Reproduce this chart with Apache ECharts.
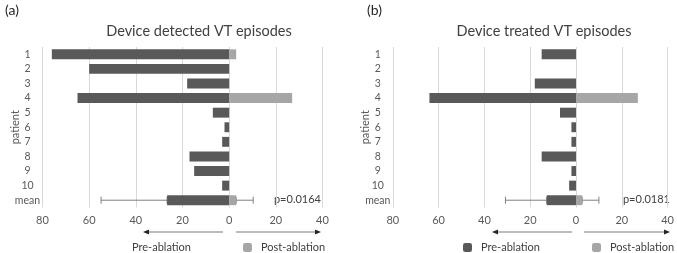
<!DOCTYPE html>
<html>
<head>
<meta charset="utf-8">
<script src="https://cdn.jsdelivr.net/npm/echarts@6/dist/echarts.min.js"></script>
<style>
  html, body { margin: 0; padding: 0; background: #fff; }
  #chart { width: 677px; height: 253px; }
</style>
</head>
<body>
<div id="chart"></div>
<script>
// patients on the y axis, values = number of VT episodes
var patients = ['1', '2', '3', '4', '5', '6', '7', '8', '9', '10', 'mean'];

var detectedPre  = [76, 60, 18, 65, 7, 2, 3, 17, 15, 3, 26.6];
var detectedPost = [3, 0, 0, 27, 0, 0, 0, 0, 0, 0, 3];
var detectedSd   = [28.3, 7.3];   // pre, post (one-sided error bars on mean)

var treatedPre  = [15, 0, 18, 64, 7, 2, 2, 15, 2, 3, 12.8];
var treatedPost = [0, 0, 0, 27, 0, 0, 0, 0, 0, 0, 2.7];
var treatedSd   = [18, 7.3];

var xTicks = { min: -80, max: 40, step: 20 };
var pValues = ['p=0.0164', 'p=0.0181'];

var PRE = '#595959', POST = '#a6a6a6', TXT = '#595959';
var FONT = 'Lato';

var chart = echarts.init(document.getElementById('chart'));

function neg(arr) {
    return arr.map(function (v) { return -v; });
}

function errData(pre, post, sd) {
    var last = patients.length - 1;
    return [
        [last, -(pre[last] + sd[0]), -pre[last]],
        [last, post[last], post[last] + sd[1]]
    ];
}

function renderErr(params, api) {
    var y = api.value(0);
    var a = api.coord([api.value(1), y]);
    var b = api.coord([api.value(2), y]);
    var h = 3.5;
    var st = { stroke: '#7f7f7f', lineWidth: 1 };
    return {
        type: 'group',
        children: [
            { type: 'line', shape: { x1: a[0], y1: a[1], x2: b[0], y2: b[1] }, style: st },
            { type: 'line', shape: { x1: a[0], y1: a[1] - h, x2: a[0], y2: a[1] + h }, style: st },
            { type: 'line', shape: { x1: b[0], y1: b[1] - h, x2: b[0], y2: b[1] + h }, style: st }
        ]
    };
}

function xAxis(idx) {
    return {
        gridIndex: idx,
        type: 'value',
        min: xTicks.min,
        max: xTicks.max,
        interval: xTicks.step,
        axisLine: { show: false },
        axisTick: { show: false },
        axisLabel: {
            color: TXT, fontFamily: FONT, fontSize: 11, margin: 7,
            formatter: function (v) { return Math.abs(v); }
        },
        splitLine: { lineStyle: { color: '#d9d9d9', width: 1 } }
    };
}

function yAxis(idx) {
    return {
        gridIndex: idx,
        type: 'category',
        inverse: true,
        data: patients,
        name: 'patient',
        nameLocation: 'middle',
        nameRotate: 90,
        nameGap: 22,
        nameMoveOverlap: false,
        nameTextStyle: { color: TXT, fontFamily: FONT, fontSize: 11 },
        axisLine: { show: false },
        axisTick: { show: false },
        axisLabel: { color: TXT, fontFamily: FONT, fontSize: 10.5, align: 'center', margin: 15 }
    };
}

function barSeries(idx, name, data, color) {
    return {
        name: name,
        type: 'bar',
        xAxisIndex: idx,
        yAxisIndex: idx,
        stack: 'g' + idx,
        barWidth: '68%',
        itemStyle: { color: color },
        data: data,
        z: 3
    };
}

function arrow(x1, x2, y, dir) {
    var tip = dir < 0 ? x1 : x2;
    return {
        type: 'group',
        children: [
            { type: 'line', shape: { x1: x1 + (dir < 0 ? 4 : 0), y1: y, x2: x2 - (dir > 0 ? 4 : 0), y2: y },
              style: { stroke: '#a6a6a6', lineWidth: 1.5 } },
            { type: 'polygon',
              shape: { points: [[tip, y], [tip - dir * 6, y - 2.5], [tip - dir * 6, y + 2.5]] },
              style: { fill: '#262626' } }
        ]
    };
}

function legendItem(left, name, color, hideIcon) {
    return {
        left: left,
        top: 242,
        padding: 0,
        selectedMode: false,
        itemWidth: 9,
        itemHeight: 9,
        data: [{ name: name, itemStyle: { color: color, opacity: hideIcon ? 0 : 1 } }],
        textStyle: { color: '#404040', fontFamily: FONT, fontSize: 11, padding: [0, 0, 0, 4] }
    };
}

var option = {
    animation: false,
    textStyle: { fontFamily: FONT },
    title: [
        { text: '(a)', left: 0, top: -2, textStyle: { color: '#262626', fontSize: 14, fontWeight: 'normal', fontFamily: FONT } },
        { text: '(b)', left: 362, top: -2, textStyle: { color: '#262626', fontSize: 14, fontWeight: 'normal', fontFamily: FONT } },
        { text: 'Device detected VT episodes', left: 194, top: 19, textAlign: 'center',
          textStyle: { color: '#404040', fontSize: 14.5, fontWeight: 'normal', fontFamily: FONT } },
        { text: 'Device treated VT episodes', left: 539, top: 19, textAlign: 'center',
          textStyle: { color: '#404040', fontSize: 14.5, fontWeight: 'normal', fontFamily: FONT } }
    ],
    legend: [
        legendItem(114, 'Pre-ablation', PRE, true),
        legendItem(243, 'Post-ablation', POST, false),
        legendItem(463, 'Pre-ablation', PRE, false),
        legendItem(592, 'Post-ablation', POST, false)
    ],
    grid: [
        { left: 42.5, right: 354.5, top: 47, height: 160.5 },
        { left: 392.8, right: 6.3, top: 47, height: 160.5 }
    ],
    xAxis: [xAxis(0), xAxis(1)],
    yAxis: [yAxis(0), yAxis(1)],
    series: [
        barSeries(0, 'Pre-ablation', neg(detectedPre), PRE),
        barSeries(0, 'Post-ablation', detectedPost, POST),
        { type: 'custom', xAxisIndex: 0, yAxisIndex: 0, z: 1, renderItem: renderErr,
          encode: { x: [1, 2], y: 0 }, data: errData(detectedPre, detectedPost, detectedSd) },
        barSeries(1, 'Pre-ablation', neg(treatedPre), PRE),
        barSeries(1, 'Post-ablation', treatedPost, POST),
        { type: 'custom', xAxisIndex: 1, yAxisIndex: 1, z: 1, renderItem: renderErr,
          encode: { x: [1, 2], y: 0 }, data: errData(treatedPre, treatedPost, treatedSd) }
    ],
    graphic: [
        { type: 'text', right: 677 - 321, top: 194,
          style: { text: pValues[0], fill: '#404040', font: '11px ' + FONT } },
        { type: 'text', right: 677 - 670, top: 194,
          style: { text: pValues[1], fill: '#404040', font: '11px ' + FONT } },
        arrow(143, 223, 232, -1),
        arrow(236, 321, 232, 1),
        arrow(492, 572, 232, -1),
        arrow(584, 670, 232, 1)
    ]
};

chart.setOption(option);
</script>
</body>
</html>
